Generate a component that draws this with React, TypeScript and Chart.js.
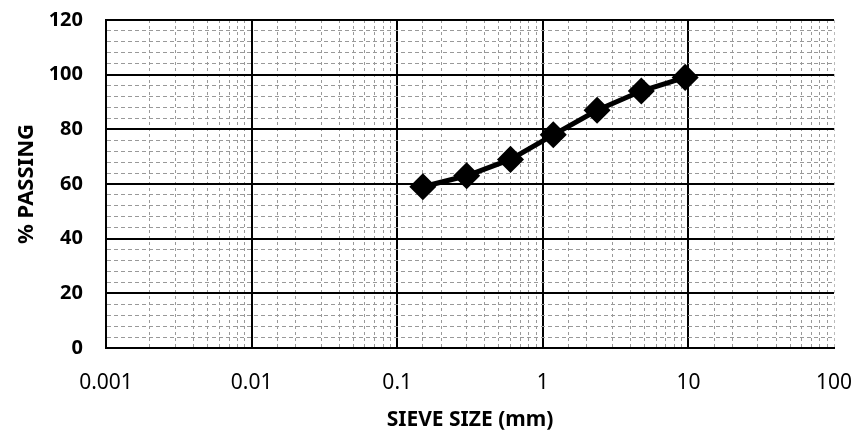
import React, { useEffect, useRef } from "react";
import { Chart, registerables } from "chart.js";

Chart.register(...registerables);

const sieveSizes = [0.15, 0.3, 0.6, 1.18, 2.36, 4.75, 9.5];
const percentPassing = [59, 63, 69, 78, 87, 94, 99];
const xTickLabels = ["0.001", "0.01", "0.1", "1", "10", "100"];
const xMin = 0.001;
const xMax = 100;
const yMin = 0;
const yMax = 120;
const yMajorStep = 20;
const yMinorStep = 4;

const FONT = "'Noto Sans', 'Open Sans', sans-serif";

function decadeIndex(v: number): number {
  const l = Math.log10(v);
  const r = Math.round(l);
  return Math.abs(l - r) < 1e-6 ? r + 3 : -1;
}

export default function App() {
  const ref = useRef<HTMLCanvasElement | null>(null);

  useEffect(() => {
    document.body.style.margin = "0";
    const ctx = ref.current!.getContext("2d")!;
    const chart = new Chart(ctx, {
      type: "line",
      data: {
        datasets: [
          {
            data: sieveSizes.map((x, i) => ({ x, y: percentPassing[i] })),
            borderColor: "#000",
            backgroundColor: "#000",
            borderWidth: 5,
            pointStyle: "rectRot",
            pointRadius: 10,
            pointHoverRadius: 10,
            pointBackgroundColor: "#000",
            pointBorderColor: "#000",
            tension: 0,
          },
        ],
      },
      options: {
        animation: false,
        responsive: false,
        maintainAspectRatio: false,
        layout: { padding: { top: 20, right: 25, left: 0, bottom: 0 } },
        plugins: {
          legend: { display: false },
          tooltip: { enabled: false },
        },
        scales: {
          x: {
            type: "logarithmic",
            min: xMin,
            max: xMax,
            afterFit: (s: any) => {
              s.height = 91;
              s.paddingLeft = 0;
              s.paddingRight = 0;
            },
            ticks: {
              autoSkip: false,
              maxRotation: 0,
              color: "#000",
              padding: 22,
              font: { family: FONT, size: 21 },
              callback: (v: any) => {
                const i = decadeIndex(Number(v));
                return i >= 0 ? xTickLabels[i] : "";
              },
            },
            grid: {
              drawTicks: false,
              color: (c: any) => {
                const v = c.tick ? c.tick.value : 0;
                const i = decadeIndex(v);
                if (i === 5) return "#bbb";
                return i >= 0 ? "#000" : "#999";
              },
              lineWidth: (c: any) => {
                const v = c.tick ? c.tick.value : 0;
                const i = decadeIndex(v);
                if (i === 5) return 1;
                return i >= 0 ? 2 : 1;
              },
            },
            border: {
              display: true,
              color: "#000",
              width: 2,
              dash: (c: any) => {
                const v = c.tick ? c.tick.value : 0;
                const i = decadeIndex(v);
                return i >= 0 && i < 5 ? [] : [3, 3];
              },
            },
            title: {
              display: true,
              text: "SIEVE SIZE (mm)",
              color: "#000",
              font: { family: FONT, size: 21, weight: "bold" },
              padding: { top: 0, bottom: 6 },
            },
          },
          y: {
            min: yMin,
            max: yMax,
            afterFit: (s: any) => {
              s.width = 106;
              s.paddingTop = 0;
              s.paddingBottom = 0;
            },
            ticks: {
              stepSize: yMinorStep,
              autoSkip: false,
              color: "#000",
              padding: 23,
              font: { family: FONT, size: 20, weight: "bold" },
              callback: (v: any) => (Number(v) % yMajorStep === 0 ? String(v) : ""),
            },
            grid: {
              drawTicks: false,
              color: (c: any) => {
                const v = c.tick ? c.tick.value : 0;
                return v % yMajorStep === 0 ? "#000" : "#999";
              },
              lineWidth: (c: any) => {
                const v = c.tick ? c.tick.value : 0;
                return v % yMajorStep === 0 ? 2 : 1;
              },
            },
            border: {
              display: true,
              color: "#000",
              width: 2,
              dash: (c: any) => {
                const v = c.tick ? c.tick.value : 0;
                return v % yMajorStep === 0 ? [] : [4, 3];
              },
            },
            title: {
              display: true,
              text: "% PASSING",
              color: "#000",
              font: { family: FONT, size: 22, weight: "bold" },
              padding: { top: 14, bottom: 0 },
            },
          },
        },
      },
    });
    return () => chart.destroy();
  }, []);

  return (
    <div style={{ position: "absolute", left: 0, top: 0, width: 859, height: 439, background: "#fff" }}>
      <canvas ref={ref} width={859} height={439} style={{ width: 859, height: 439 }} />
    </div>
  );
}
